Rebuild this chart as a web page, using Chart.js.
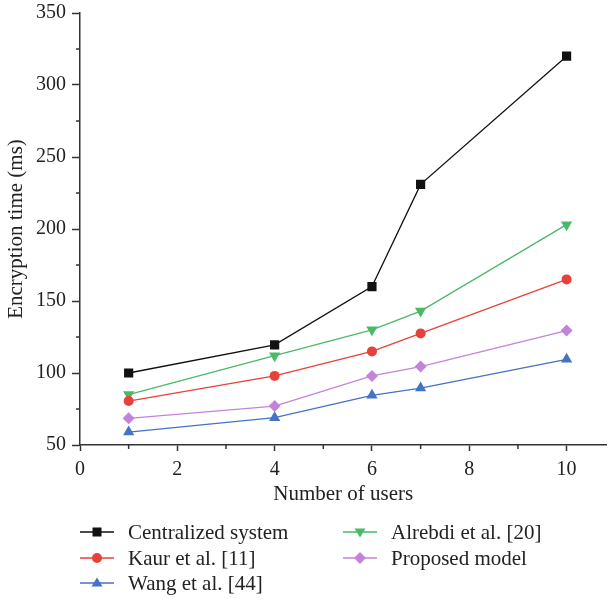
<!DOCTYPE html>
<html>
<head>
<meta charset="utf-8">
<script src="https://cdn.jsdelivr.net/npm/chart.js@4.4.0/dist/chart.umd.min.js"></script>
<style>
  body { margin: 0; background: #fff; }
  #wrap { position: relative; width: 613px; height: 599px; }
  #legend { position: absolute; left: 0; top: 0; font-family: "Liberation Serif", serif; font-size: 21px; color: #222; }
  .item { position: absolute; display: flex; align-items: center; height: 26px; white-space: nowrap; }
  .item svg { margin-right: 14px; }
</style>
</head>
<body>
<div id="wrap">
  <canvas id="chart" width="613" height="599"></canvas>
  <div id="legend"></div>
</div>
<script>
// values
const users = [1, 4, 6, 7, 10];
const centralized = [100, 119.5, 160, 231, 320];
const kaur = [80.5, 98, 115, 127.5, 165];
const wang = [59, 69, 84.5, 89.5, 109.5];
const alrebdi = [85, 112, 130, 143, 203];
const proposed = [68.5, 77, 98, 104.5, 129.5];

const xTicks = [0, 2, 4, 6, 8, 10];
const yTicks = [50, 100, 150, 200, 250, 300, 350];

const FONT = '"Liberation Serif", "Times New Roman", serif';

const series = [
    { label: 'Centralized system', data: centralized, color: '#111111', point: 'rect', radius: 6.5, rot: 0 },
    { label: 'Kaur et al. [11]', data: kaur, color: '#e8413b', point: 'circle', radius: 5, rot: 0 },
    { label: 'Wang et al. [44]', data: wang, color: '#4472c4', point: 'triangle', radius: 6.5, rot: 0 },
    { label: 'Alrebdi et al. [20]', data: alrebdi, color: '#4ab96a', point: 'triangle', radius: 6.5, rot: 180 },
    { label: 'Proposed model', data: proposed, color: '#c284da', point: 'rectRot', radius: 6, rot: 0 }
];

// minor ticks between the labelled ones
const minorTicks = {
    id: 'minorTicks',
    afterDraw(chart) {
        const ctx = chart.ctx;
        const xs = chart.scales.x, ys = chart.scales.y;
        ctx.save();
        ctx.strokeStyle = '#333';
        ctx.lineWidth = 1.5;
        ctx.beginPath();
        for (let i = 0; i < yTicks.length - 1; i++) {
            const py = ys.getPixelForValue((yTicks[i] + yTicks[i + 1]) / 2);
            ctx.moveTo(xs.left - 4, py);
            ctx.lineTo(xs.left, py);
        }
        for (let i = 0; i < xTicks.length; i++) {
            const px = xs.getPixelForValue(xTicks[i] + 1);
            if (px > chart.chartArea.right) continue;
            ctx.moveTo(px, ys.bottom);
            ctx.lineTo(px, ys.bottom + 4);
        }
        ctx.stroke();
        ctx.restore();
    }
};

new Chart(document.getElementById('chart'), {
    type: 'line',
    data: {
        datasets: series.map(s => ({
            label: s.label,
            data: users.map((u, i) => ({ x: u, y: s.data[i] })),
            borderColor: s.color,
            backgroundColor: s.color,
            borderWidth: 1.3,
            pointStyle: s.point,
            pointRadius: s.radius,
            pointRotation: s.rot,
            pointBorderWidth: 0,
            tension: 0
        }))
    },
    plugins: [minorTicks],
    options: {
        responsive: false,
        animation: false,
        layout: { padding: { top: 13, left: 0, right: 0, bottom: 92 } },
        plugins: { legend: { display: false }, tooltip: { enabled: false } },
        scales: {
            x: {
                type: 'linear',
                min: 0,
                max: 10.82,
                afterBuildTicks: s => { s.ticks = xTicks.map(v => ({ value: v })); },
                afterFit: s => { s.height = 62; s.paddingLeft = 0; s.paddingRight = 0; },
                ticks: { padding: 7, color: '#222', font: { family: FONT, size: 20 } },
                grid: { drawOnChartArea: false, drawTicks: true, tickLength: 6, tickColor: '#333', tickWidth: 1.5 },
                border: { color: '#333', width: 1.5 },
                title: { display: true, text: 'Number of users', color: '#222', font: { family: FONT, size: 21 }, padding: { top: 0, bottom: 0 } }
            },
            y: {
                min: 50,
                max: 350,
                afterBuildTicks: s => { s.ticks = yTicks.map(v => ({ value: v })); },
                afterFit: s => { s.width = 80; s.paddingTop = 0; s.paddingBottom = 0; },
                ticks: { padding: 6, color: '#222', font: { family: FONT, size: 20 } },
                grid: { drawOnChartArea: false, drawTicks: true, tickLength: 8, tickColor: '#333', tickWidth: 1.5 },
                border: { color: '#333', width: 1.5 },
                title: { display: true, text: 'Encryption time (ms)', color: '#222', font: { family: FONT, size: 21 }, padding: { top: 4, bottom: 0 } }
            }
        }
    }
});

// legend in two columns below the plot
function markerSvg(s) {
    const c = s.color;
    let m;
    if (s.point === 'rect') m = `<rect x="12.5" y="2.5" width="9" height="9" fill="${c}"/>`;
    else if (s.point === 'circle') m = `<circle cx="17" cy="7" r="5" fill="${c}"/>`;
    else if (s.point === 'rectRot') m = `<polygon points="17,1 23,7 17,13 11,7" fill="${c}"/>`;
    else if (s.rot === 180) m = `<polygon points="11.5,3.5 22.5,3.5 17,12.5" fill="${c}"/>`;
    else m = `<polygon points="17,1.5 22.5,10.5 11.5,10.5" fill="${c}"/>`;
    return `<svg width="34" height="14"><line x1="0" y1="7" x2="34" y2="7" stroke="${c}" stroke-width="1.3"/>${m}</svg>`;
}

const legendPos = [[80, 519], [80, 545], [80, 570], [343, 519], [343, 545]];
const legend = document.getElementById('legend');
series.forEach((s, i) => {
    const d = document.createElement('div');
    d.className = 'item';
    d.style.left = legendPos[i][0] + 'px';
    d.style.top = legendPos[i][1] + 'px';
    d.innerHTML = markerSvg(s) + '<span>' + s.label + '</span>';
    legend.appendChild(d);
});
</script>
</body>
</html>
